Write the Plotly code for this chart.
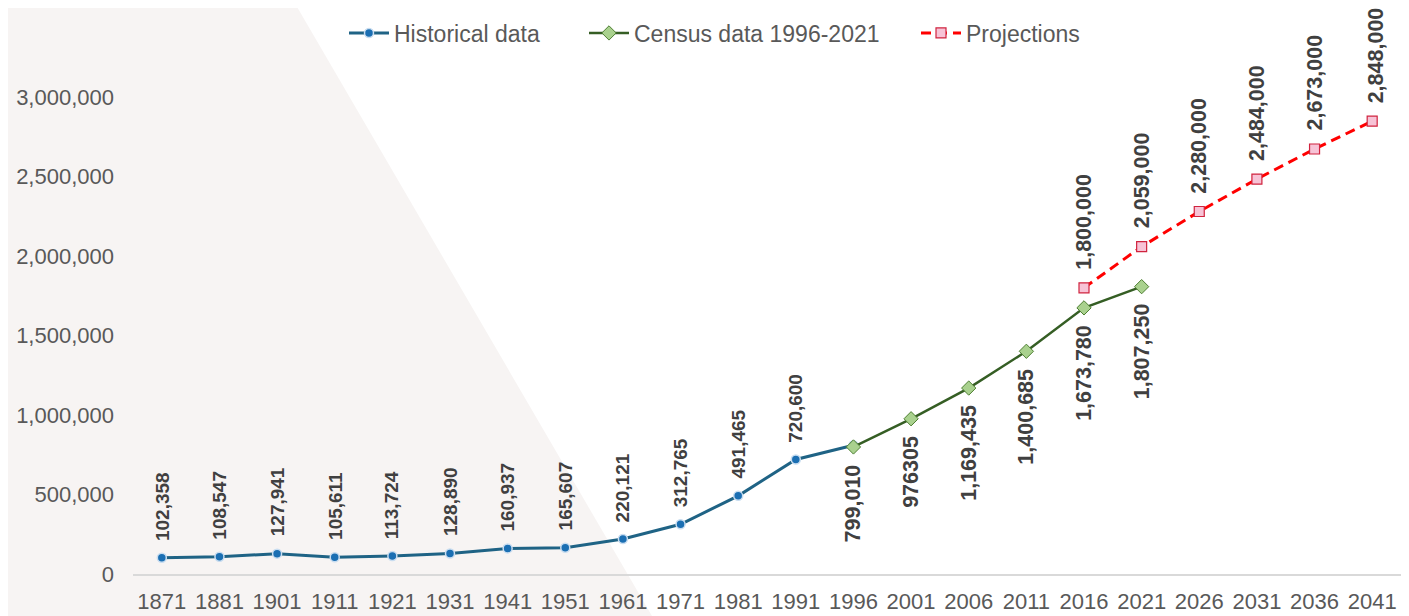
import plotly.graph_objects as go

years = ["1871", "1881", "1901", "1911", "1921", "1931", "1941", "1951", "1961", "1971", "1981",
         "1991", "1996", "2001", "2006", "2011", "2016", "2021", "2026", "2031", "2036", "2041"]

hist_years = ["1871", "1881", "1901", "1911", "1921", "1931", "1941", "1951", "1961", "1971", "1981", "1991", "1996"]
hist_vals = [102358, 108547, 127941, 105611, 113724, 128890, 160937, 165607, 220121, 312765, 491465, 720600, 810000]
hist_labels = ["102,358", "108,547", "127,941", "105,611", "113,724", "128,890", "160,937", "165,607",
               "220,121", "312,765", "491,465", "720,600", None]

census_years = ["1996", "2001", "2006", "2011", "2016", "2021"]
census_vals = [799010, 976305, 1169435, 1400685, 1673780, 1807250]
census_labels = ["799,010", "976305", "1,169,435", "1,400,685", "1,673,780", "1,807,250"]

proj_years = ["2016", "2021", "2026", "2031", "2036", "2041"]
proj_vals = [1800000, 2059000, 2280000, 2484000, 2673000, 2848000]
proj_labels = ["1,800,000", "2,059,000", "2,280,000", "2,484,000", "2,673,000", "2,848,000"]

y_ticks = [0, 500000, 1000000, 1500000, 2000000, 2500000, 3000000]

FONT = "Liberation Sans, Arial, sans-serif"

fig = go.Figure()
fig.add_trace(go.Scatter(
    x=hist_years, y=hist_vals, mode="lines+markers", name="Historical data", legend="legend",
    line=dict(color="#1F6385", width=3),
    marker=dict(symbol="circle", size=9, color="#1B6FB3", line=dict(color="#C9DDF0", width=1.5)),
    cliponaxis=False))
fig.add_trace(go.Scatter(
    x=census_years, y=census_vals, mode="lines+markers", name="Census data 1996-2021", legend="legend2",
    line=dict(color="#355E24", width=2.5),
    marker=dict(symbol="diamond", size=11, color="#A9D18E", line=dict(color="#4E7F32", width=1)),
    cliponaxis=False))
fig.add_trace(go.Scatter(
    x=proj_years, y=proj_vals, mode="lines+markers", name="Projections", legend="legend3",
    line=dict(color="#FF0000", width=3, dash="10px,6px"),
    marker=dict(symbol="square", size=10, color="#F7C3D6", line=dict(color="#D0233E", width=1.2)),
    cliponaxis=False))

ann = []
hist_font = dict(family=FONT, size=19, color="#404040")
big_font = dict(family=FONT, size=21.5, color="#404040")
def idx(y):
    return years.index(y)
for x, y, t in zip(hist_years, hist_vals, hist_labels):
    if t:
        ann.append(dict(x=idx(x), y=y, text="<b>%s</b>" % t, textangle=-90, showarrow=False,
                        xanchor="center", yanchor="bottom", yshift=15, font=hist_font))
for x, y, t in zip(census_years, census_vals, census_labels):
    ann.append(dict(x=idx(x), y=y, text="<b>%s</b>" % t, textangle=-90, showarrow=False,
                    xanchor="center", yanchor="top", yshift=-15, font=big_font))
for x, y, t in zip(proj_years, proj_vals, proj_labels):
    ann.append(dict(x=idx(x), y=y, text="<b>%s</b>" % t, textangle=-90, showarrow=False,
                    xanchor="center", yanchor="bottom", yshift=16, font=big_font,
                    xshift=4 if x == "2041" else 0))

OFF = 8  # page body margin
W, H = 1409 - OFF, 616 - OFF
L, R, T, B = 133 - OFF, 8, 97 - OFF, 42
pw, ph = W - L - R, H - T - B
def px(x):
    return (x - OFF - L) / pw
def py(y):
    return (H - B - (y - OFF)) / ph
path = "M %f,%f L %f,%f L %f,%f L %f,%f Z" % (px(0), py(0), px(293), py(0), px(652), py(616), px(0), py(616))

leg_common = dict(orientation="h", xanchor="left", yanchor="middle", y=py(33),
                  font=dict(family=FONT, size=23, color="#595959"), bgcolor="rgba(0,0,0,0)",
                  itemwidth=40)

fig.update_layout(
    width=W, height=H,
    margin=dict(l=L, r=R, t=T, b=B, autoexpand=False),
    paper_bgcolor="white", plot_bgcolor="rgba(0,0,0,0)",
    font=dict(family=FONT, color="#595959"),
    showlegend=True,
    legend=dict(x=px(344), **leg_common),
    legend2=dict(x=px(584), **leg_common),
    legend3=dict(x=px(916), **leg_common),
    annotations=ann,
    shapes=[dict(type="path", xref="paper", yref="paper", path=path,
                 fillcolor="#F7F4F3", line=dict(width=0), layer="below")],
    xaxis=dict(type="category", categoryorder="array", categoryarray=years,
               range=[-0.5, len(years) - 0.5], showgrid=False, zeroline=False,
               showline=True, linecolor="#D9D9D9", linewidth=1.5, ticks="",
               ticklabelstandoff=7,
               tickfont=dict(size=22, color="#595959")),
    yaxis=dict(range=[0, 3000000], tickvals=y_ticks, tickformat=",", showgrid=False,
               zeroline=False, showline=False, ticks="", ticklabelstandoff=18,
               tickfont=dict(size=22, color="#595959")),
)

fig.write_html("out.html")
